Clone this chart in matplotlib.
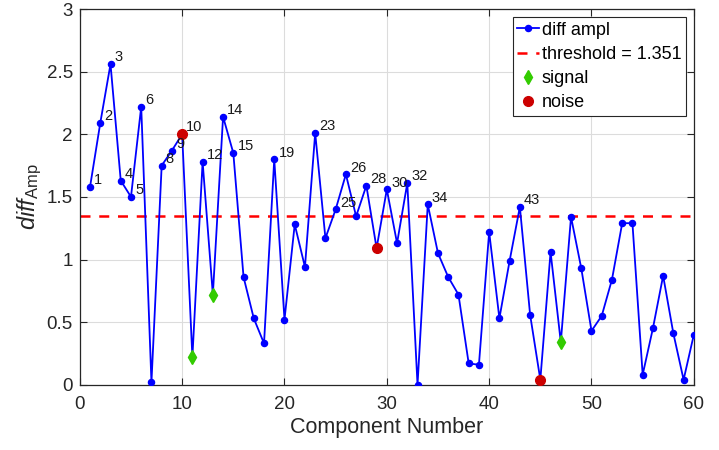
import matplotlib
matplotlib.use("Agg")
import matplotlib.pyplot as plt
import numpy as np

plt.rcParams['font.family'] = ['Liberation Sans', 'DejaVu Sans']
plt.rcParams['mathtext.fontset'] = 'custom'
plt.rcParams['mathtext.rm'] = 'Liberation Sans'
plt.rcParams['mathtext.it'] = 'Liberation Sans:italic'

# Difference amplitude per component
components = list(range(1, 61))
diff_ampl = [1.58, 2.09, 2.56, 1.63, 1.50, 2.22, 0.02, 1.75, 1.87, 2.00,
             0.22, 1.78, 0.72, 2.14, 1.85, 0.86, 0.53, 0.33, 1.80, 0.52,
             1.28, 0.94, 2.01, 1.17, 1.40, 1.68, 1.345, 1.59, 1.09, 1.56,
             1.13, 1.61, 0.00, 1.44, 1.05, 0.86, 0.72, 0.17, 0.16, 1.22,
             0.53, 0.99, 1.42, 0.56, 0.04, 1.06, 0.34, 1.34, 0.93, 0.43,
             0.55, 0.84, 1.29, 1.29, 0.08, 0.45, 0.87, 0.41, 0.04, 0.40]
threshold = 1.351
signal_ids = [11, 13, 47]
noise_ids = [10, 29, 45]

fig = plt.figure(figsize=(7.19, 4.5), dpi=100)
ax = fig.add_axes([0.111, 0.145, 0.854, 0.835])

ax.plot(components, diff_ampl, '-o', color='#0000ff', lw=1.3, ms=4.4,
        label='diff ampl', zorder=3)
ax.axhline(threshold, color='#ff0000', ls=(0, (4, 3.5)), lw=1.8,
           label=f'threshold = {threshold:.3f}', zorder=2)
ax.plot(signal_ids, [diff_ampl[i - 1] for i in signal_ids], 'd', ls='none',
        color='#33cc00', ms=7, label='signal', zorder=4)
ax.plot(noise_ids, [diff_ampl[i - 1] for i in noise_ids], 'o', ls='none',
        color='#cc0000', ms=7, label='noise', zorder=4)

for c, v in zip(components, diff_ampl):
    if v > threshold:
        ax.annotate(str(c), (c, v), xytext=(3, 2), textcoords='offset points',
                    fontsize=10.5, color='#1a1a1a', zorder=5)

ax.set_xlim(0, 60)
ax.set_ylim(0, 3)
ax.set_xticks(np.arange(0, 61, 10))
ax.set_yticks(np.arange(0, 3.01, 0.5))
ax.set_yticklabels(['0', '0.5', '1', '1.5', '2', '2.5', '3'])
ax.grid(True, color='#dcdcdc', lw=0.8, zorder=0)
ax.set_axisbelow(True)
ax.tick_params(direction='in', top=True, right=True, length=5, width=0.8,
               labelsize=13.5, colors='#262626')
ax.tick_params(axis='x', pad=8)
ax.tick_params(axis='y', pad=5)
for s in ax.spines.values():
    s.set_color('#262626')
    s.set_linewidth(0.9)

ax.set_xlabel('Component Number', fontsize=15.5, color='#262626', labelpad=3)
ax.set_ylabel(r'$\mathit{diff}_{\mathrm{Amp}}$', fontsize=17, color='#262626',
              labelpad=2)

leg = ax.legend(loc='upper right', fontsize=13, frameon=True, fancybox=False,
                edgecolor='#262626', framealpha=1, handlelength=1.2,
                handletextpad=0.15, borderpad=0.25, labelspacing=0.4,
                borderaxespad=0.45)
leg.get_frame().set_linewidth(0.8)

fig.savefig('out.png', dpi=100)
